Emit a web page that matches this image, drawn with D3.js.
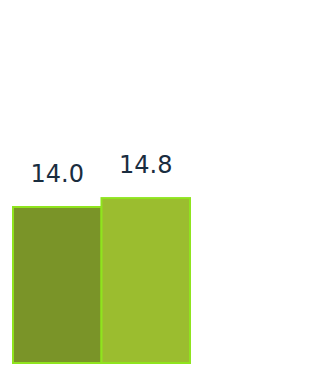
<!DOCTYPE html>
<html><head><meta charset="utf-8">
<script src="https://cdn.jsdelivr.net/npm/d3@7"></script>
<style>html,body{margin:0;padding:0;background:#fff;}</style>
</head><body>
<svg id="c" width="331" height="368"></svg>
<script>
const categories = ["A", "B"];
const values = [14.0, 14.8];
const colors = ["#7a9428", "#9bbd2f"];

const svg = d3.select("#c");
const x = d3.scaleBand().domain(categories).range([13, 190]).padding(0);
const y = d3.scaleLinear().domain([0, 14]).range([363, 207]);

svg.selectAll("rect").data(values).enter().append("rect")
  .attr("x", (d, i) => x(categories[i]))
  .attr("y", d => y(d))
  .attr("width", x.bandwidth())
  .attr("height", d => y(0) - y(d))
  .attr("fill", (d, i) => colors[i])
  .attr("stroke", "#8fe41e")
  .attr("stroke-width", 2);

svg.selectAll("text.lbl").data(values).enter().append("text")
  .attr("class", "lbl")
  .attr("x", (d, i) => x(categories[i]) + x.bandwidth() / 2)
  .attr("y", d => y(d) - 25.5)
  .attr("text-anchor", "middle")
  .attr("font-family", "DejaVu Sans, Verdana, sans-serif")
  .attr("font-size", 24)
  .attr("fill", "#1a2d3f")
  .text(d => d.toFixed(1));
</script>
</body></html>
